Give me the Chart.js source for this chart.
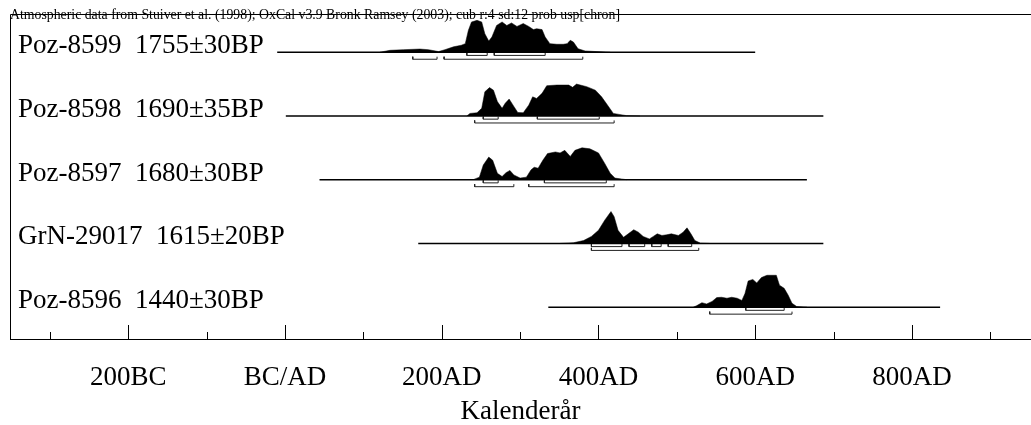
<!DOCTYPE html>
<html>
<head>
<meta charset="utf-8">
<script src="https://cdn.jsdelivr.net/npm/chart.js@4.4.1/dist/chart.umd.min.js"></script>
<style>
  html, body { margin: 0; padding: 0; background: #fff; }
  #wrap { width: 1031px; height: 425px; }
</style>
</head>
<body>
<div id="wrap"><canvas id="oxcal" width="1031" height="425"></canvas></div>
<script>
// header and row labels
var header = 'Atmospheric data from Stuiver et al. (1998); OxCal v3.9 Bronk Ramsey (2003); cub r:4 sd:12 prob usp[chron]';
var names = ['Poz-8599  1755\u00b130BP', 'Poz-8598  1690\u00b135BP', 'Poz-8597  1680\u00b130BP',
             'GrN-29017  1615\u00b120BP', 'Poz-8596  1440\u00b130BP'];
var rowBase = [4.5, 3.5, 2.5, 1.5, 0.5];

// x axis ticks (calendar years, BC negative)
var majorTicks = [-200, 0, 200, 400, 600, 800];
var tickLabels = ['200BC', 'BC/AD', '200AD', '400AD', '600AD', '800AD'];
var minorTicks = [-300, -100, 100, 300, 500, 700, 900];

// plotted span of each row
var spans = [[-10, 600], [1, 687], [44, 666], [170, 687], [336, 836]];

// probability distributions (relative to max)
var yr8599 = [121, 134, 151, 172, 183, 196, 204, 215, 225, 230, 234, 238, 245, 251, 255, 260, 264, 270, 277, 283, 289, 296, 304, 311, 317, 321, 328, 332, 338, 347, 355, 360, 364, 368, 374, 383, 398, 415];
var p8599  = [0, 0.06, 0.08, 0.10, 0.08, 0.02, 0.08, 0.17, 0.22, 0.27, 0.69, 0.95, 1.0, 0.95, 0.58, 0.35, 0.48, 0.84, 0.95, 0.84, 0.92, 0.81, 0.90, 0.81, 0.71, 0.74, 0.71, 0.48, 0.27, 0.25, 0.25, 0.27, 0.375, 0.32, 0.11, 0.04, 0.02, 0];

var yr8598 = [232, 236, 245, 251, 255, 261, 266, 271, 277, 281, 286, 291, 297, 304, 311, 316, 321, 328, 334, 347, 362, 367, 372, 385, 396, 404, 413, 419, 436, 453];
var p8598  = [0, 0.08, 0.10, 0.24, 0.76, 0.89, 0.81, 0.45, 0.24, 0.40, 0.53, 0.34, 0.11, 0.10, 0.34, 0.60, 0.55, 0.71, 0.95, 0.97, 0.97, 0.90, 1.0, 0.92, 0.81, 0.60, 0.29, 0.08, 0.01, 0];

var yr8597 = [240, 248, 253, 260, 265, 271, 277, 282, 287, 292, 300, 308, 314, 318, 323, 329, 335, 345, 351, 357, 364, 370, 379, 389, 400, 408, 415, 421, 436];
var p8597  = [0, 0.08, 0.46, 0.71, 0.61, 0.20, 0.10, 0.22, 0.29, 0.15, 0.05, 0.08, 0.31, 0.39, 0.36, 0.61, 0.82, 0.87, 0.84, 0.92, 0.73, 0.92, 1.0, 0.97, 0.84, 0.51, 0.20, 0.05, 0];

var yr29017 = [351, 368, 381, 391, 400, 408, 416, 420, 425, 432, 438, 445, 451, 457, 465, 470, 475, 481, 487, 493, 502, 508, 513, 518, 523, 530, 542];
var p29017  = [0, 0.02, 0.09, 0.22, 0.41, 0.73, 1.0, 0.84, 0.41, 0.19, 0.30, 0.43, 0.35, 0.22, 0.14, 0.22, 0.30, 0.25, 0.27, 0.30, 0.25, 0.35, 0.49, 0.30, 0.09, 0.01, 0];

var yr8596 = [521, 525, 532, 538, 545, 551, 557, 564, 570, 577, 583, 587, 591, 597, 602, 608, 615, 627, 631, 637, 642, 647, 653, 666];
var p8596  = [0, 0.04, 0.14, 0.10, 0.18, 0.30, 0.31, 0.28, 0.31, 0.28, 0.21, 0.43, 0.82, 0.87, 0.76, 0.93, 1.0, 1.0, 0.69, 0.59, 0.38, 0.12, 0.02, 0];

// 68.2% and 95.4% ranges
var r68 = [
  [[232, 258], [267, 332]],
  [[253, 272], [322, 401]],
  [[253, 272], [331, 410]],
  [[391, 430], [439, 459], [468, 480], [489, 519]],
  [[588, 637]]
];
var r95 = [
  [[163, 194], [203, 380]],
  [[242, 420]],
  [[242, 292], [311, 420]],
  [[391, 528]],
  [[542, 647]]
];

var years = [yr8599, yr8598, yr8597, yr29017, yr8596];
var probs = [p8599, p8598, p8597, p29017, p8596];

var H = 0.5;       // height of a peak, in row units
var drop68 = 0.05, drop95 = 0.11, tick = 0.04;

Chart.defaults.font.family = '"Liberation Serif", "Times New Roman", serif';
Chart.defaults.color = '#000';

function bracketData(ranges, lv) {
    var out = [];
    ranges.forEach(function(r) {
        out.push({x: r[0], y: lv + tick}, {x: r[0], y: lv}, {x: r[1], y: lv}, {x: r[1], y: lv + tick}, {x: r[1], y: null});
    });
    return out;
}

var datasets = [];
rowBase.forEach(function(b, i) {
    datasets.push({
        data: years[i].map(function(v, k) { return {x: v, y: b + probs[i][k] * H}; }),
        backgroundColor: '#000',
        borderColor: '#000',
        borderWidth: 0.5,
        fill: {value: b},
        pointRadius: 0,
        tension: 0
    });
    datasets.push({
        data: [{x: spans[i][0], y: b}, {x: spans[i][1], y: b}],
        borderColor: '#000',
        borderWidth: 1.5,
        pointRadius: 0,
        fill: false
    });
    datasets.push({
        data: bracketData(r68[i], b - drop68).concat(bracketData(r95[i], b - drop95)),
        borderColor: '#222',
        borderWidth: 1,
        pointRadius: 0,
        fill: false,
        spanGaps: false
    });
});

var framePlugin = {
    id: 'frame',
    afterDraw: function(chart) {
        var ctx = chart.ctx, a = chart.chartArea, x = chart.scales.x, y = chart.scales.y;
        ctx.save();
        ctx.strokeStyle = '#000';
        ctx.lineWidth = 1;
        ctx.beginPath();
        ctx.moveTo(a.left + 0.5, a.bottom);
        ctx.lineTo(a.left + 0.5, a.top + 0.5);
        ctx.lineTo(a.right, a.top + 0.5);
        ctx.moveTo(a.left, a.bottom + 0.5);
        ctx.lineTo(a.right, a.bottom + 0.5);
        majorTicks.forEach(function(v) {
            var px = Math.round(x.getPixelForValue(v)) + 0.5;
            ctx.moveTo(px, a.bottom);
            ctx.lineTo(px, a.bottom - 14);
        });
        minorTicks.forEach(function(v) {
            var px = Math.round(x.getPixelForValue(v)) + 0.5;
            ctx.moveTo(px, a.bottom);
            ctx.lineTo(px, a.bottom - 7);
        });
        ctx.stroke();

        ctx.fillStyle = '#000';
        ctx.textAlign = 'left';
        ctx.textBaseline = 'alphabetic';
        ctx.font = '27px "Liberation Serif", serif';
        names.forEach(function(n, i) {
            ctx.fillText(n, a.left + 8, y.getPixelForValue(rowBase[i]) + 1);
        });
        ctx.font = '13.8px "Liberation Serif", serif';
        ctx.fillText(header, a.left, a.top + 4.5);
        ctx.restore();
    }
};

new Chart(document.getElementById('oxcal'), {
    type: 'line',
    data: {datasets: datasets},
    options: {
        responsive: false,
        animation: false,
        devicePixelRatio: 1,
        layout: {padding: {top: 14, left: 10, right: 0, bottom: 0}},
        plugins: {legend: {display: false}, tooltip: {enabled: false}},
        scales: {
            x: {
                type: 'linear',
                min: -351,
                max: 952,
                afterBuildTicks: function(s) {
                    s.ticks = minorTicks.concat(majorTicks).sort(function(p, q) { return p - q; })
                        .map(function(v) { return {value: v}; });
                },
                grid: {display: false, drawTicks: false},
                border: {display: false},
                ticks: {
                    autoSkip: false,
                    maxRotation: 0,
                    padding: 22.8,
                    font: {size: 27},
                    callback: function(v) {
                        var k = majorTicks.indexOf(v);
                        return k < 0 ? '' : tickLabels[k];
                    }
                },
                title: {display: true, text: 'Kalenderår', font: {size: 27}, padding: {top: -21.4, bottom: -3}}
            },
            y: {type: 'linear', display: false, min: 0, max: 5.1}
        }
    },
    plugins: [framePlugin]
});
</script>
</body>
</html>
